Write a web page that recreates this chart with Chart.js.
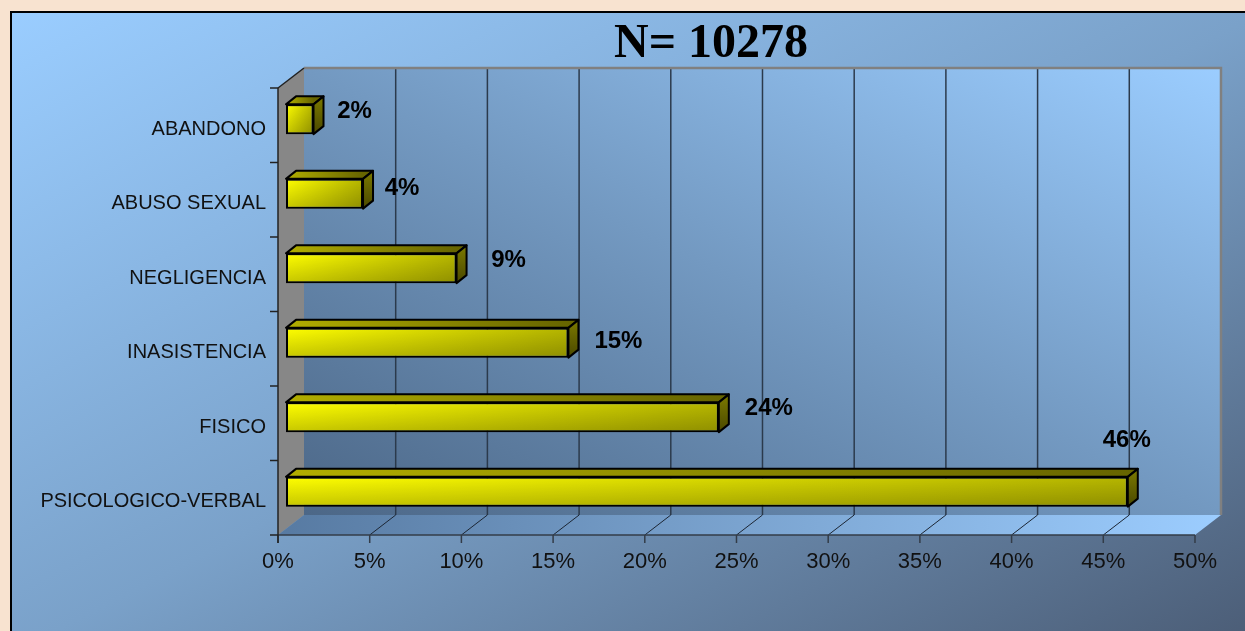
<!DOCTYPE html>
<html>
<head>
<meta charset="utf-8">
<title>N= 10278</title>
<script src="https://cdn.jsdelivr.net/npm/chart.js@4.4.1/dist/chart.umd.min.js"></script>
<style>
  html, body { margin: 0; padding: 0; width: 1245px; height: 631px; overflow: hidden; background: #f8e3d0; }
  #panel {
    position: absolute; left: 10px; top: 11px; width: 1250px; height: 640px;
    border: 2px solid #000;
    background: linear-gradient(to bottom right, #9acdff 0%, #7aa1c9 50%, #4a5b74 100%);
  }
  #chart { position: absolute; left: 0; top: 0; }
</style>
</head>
<body>
<div id="panel"></div>
<canvas id="chart" width="1245" height="631"></canvas>
<script>
const TITLE = 'N= 10278';
const categories = ['ABANDONO', 'ABUSO SEXUAL', 'NEGLIGENCIA', 'INASISTENCIA', 'FISICO', 'PSICOLOGICO-VERBAL'];
const percentValues = [1.5, 4.2, 9.3, 15.4, 23.6, 45.9];
const xTicks = [0, 5, 10, 15, 20, 25, 30, 35, 40, 45, 50];

// 3D offsets (px) relative to the plane the bars sit on
const depth = { front: [-8, 6], back: [18, -14], bar: [10, -8] };
// where each value label sits, relative to the end of its bar
const labelNudge = [[41, -8], [39, -5], [52, -8], [50, -1], [50, -9], [-1, -51]];

// canvas version of css "to top right": iso-lines run through top-left and bottom-right corners
function cornerGradient(ctx, x, y, w, h, stops) {
  const cx = x + w / 2, cy = y + h / 2;
  const len = Math.hypot(w, h);
  const ux = h / len, uy = -w / len;
  const half = (w * h) / len;
  const g = ctx.createLinearGradient(cx - ux * half, cy - uy * half, cx + ux * half, cy + uy * half);
  stops.forEach(([t, c]) => g.addColorStop(t, c));
  return g;
}

function poly(ctx, pts) {
  ctx.beginPath();
  ctx.moveTo(pts[0][0], pts[0][1]);
  pts.slice(1).forEach(p => ctx.lineTo(p[0], p[1]));
  ctx.closePath();
}

function line(ctx, x1, y1, x2, y2) {
  ctx.beginPath();
  ctx.moveTo(x1, y1);
  ctx.lineTo(x2, y2);
  ctx.stroke();
}

const scene3d = {
  id: 'scene3d',
  beforeDatasetsDraw(chart) {
    const { ctx, chartArea: a, scales: { x, y } } = chart;
    const [fx, fy] = depth.front, [bx, by] = depth.back;
    const left = x.getPixelForValue(xTicks[0]);
    const right = x.getPixelForValue(xTicks[xTicks.length - 1]);
    const wl = left + bx, wr = right + bx, wt = a.top + by, wb = a.bottom + by;
    const fl = left + fx, fr = right + fx, ft = a.top + fy, fb = a.bottom + fy;
    ctx.save();

    // back wall
    ctx.fillStyle = cornerGradient(ctx, wl, wt, wr - wl, wb - wt, [[0, '#4c6787'], [0.5, '#7399c1'], [1, '#9bcdff']]);
    ctx.fillRect(wl, wt, wr - wl, wb - wt);
    ctx.strokeStyle = '#2b3a4c';
    ctx.lineWidth = 1.5;
    xTicks.slice(1, -1).forEach(v => {
      const px = x.getPixelForValue(v) + bx;
      line(ctx, px, wt, px, wb);
    });
    ctx.strokeStyle = '#808080';
    ctx.lineWidth = 2.5;
    ctx.beginPath();
    ctx.moveTo(wl, wt); ctx.lineTo(wr, wt); ctx.lineTo(wr, wb);
    ctx.stroke();

    // left side wall
    poly(ctx, [[fl, ft], [wl, wt], [wl, wb], [fl, fb]]);
    ctx.fillStyle = '#878787';
    ctx.fill();

    // floor
    const fg = ctx.createLinearGradient(fl, 0, wr, 0);
    fg.addColorStop(0, '#577aa2');
    fg.addColorStop(0.5, '#7ba4d0');
    fg.addColorStop(1, '#9ccdff');
    poly(ctx, [[fl, fb], [fr, fb], [wr, wb], [wl, wb]]);
    ctx.fillStyle = fg;
    ctx.fill();
    ctx.strokeStyle = '#1c2634';
    ctx.lineWidth = 1;
    xTicks.slice(1, -1).forEach(v => {
      const px = x.getPixelForValue(v);
      line(ctx, px + fx, fb, px + bx, wb);
    });

    // front edges and tick marks
    ctx.strokeStyle = '#333c48';
    ctx.lineWidth = 1.5;
    line(ctx, fl, fb, fr, fb);
    xTicks.forEach(v => {
      const px = x.getPixelForValue(v) + fx;
      line(ctx, px, fb, px, fb + 8);
    });
    ctx.strokeStyle = '#222';
    line(ctx, fl, ft, fl, fb + 8);
    line(ctx, fl, ft, wl, wt);
    const half = (y.getPixelForValue(1) - y.getPixelForValue(0)) / 2;
    for (let i = 0; i <= categories.length; i++) {
      const py = (i < categories.length ? y.getPixelForValue(i) - half : y.getPixelForValue(i - 1) + half) + fy;
      line(ctx, fl - 8, py, fl, py);
    }

    // bar tops and sides
    const [dx, dy] = depth.bar;
    chart.getDatasetMeta(0).data.forEach(bar => {
      const { x: x1, y: cy, base: x0, height: h } = bar.getProps(['x', 'y', 'base', 'height'], true);
      const top = cy - h / 2, bot = cy + h / 2;
      ctx.lineWidth = 2;
      ctx.lineJoin = 'round';
      ctx.strokeStyle = '#000';
      const tg = ctx.createLinearGradient(x0, 0, x1, 0);
      tg.addColorStop(0, '#b2ae00');
      tg.addColorStop(1, '#676500');
      poly(ctx, [[x0, top], [x0 + dx, top + dy], [x1 + dx, top + dy], [x1, top]]);
      ctx.fillStyle = tg;
      ctx.fill();
      ctx.stroke();
      const sg = ctx.createLinearGradient(0, top + dy, 0, bot);
      sg.addColorStop(0, '#7c7a00');
      sg.addColorStop(1, '#4a4800');
      poly(ctx, [[x1, top], [x1 + dx, top + dy], [x1 + dx, bot + dy], [x1, bot]]);
      ctx.fillStyle = sg;
      ctx.fill();
      ctx.stroke();
    });
    ctx.restore();
  },
  afterDatasetsDraw(chart) {
    const { ctx } = chart;
    ctx.save();
    const meta = chart.getDatasetMeta(0);
    meta.data.forEach((bar, i) => {
      const { x: x1, y: cy, base: x0, height: h } = bar.getProps(['x', 'y', 'base', 'height'], true);
      // shading towards the bottom of the front face
      const vg = ctx.createLinearGradient(0, cy - h / 2, 0, cy + h / 2);
      vg.addColorStop(0, 'rgba(0,0,0,0)');
      vg.addColorStop(1, 'rgba(0,0,0,0.22)');
      ctx.fillStyle = vg;
      ctx.fillRect(x0, cy - h / 2, x1 - x0, h);

      ctx.fillStyle = '#000';
      ctx.font = 'bold 24px "Liberation Sans", Arial, sans-serif';
      ctx.textAlign = 'center';
      ctx.textBaseline = 'middle';
      const [nx, ny] = labelNudge[i];
      ctx.fillText(Math.round(percentValues[i]) + '%', x1 + nx, cy + ny);
    });

    ctx.font = 'bold 48px "Liberation Serif", "Times New Roman", serif';
    ctx.textAlign = 'center';
    ctx.textBaseline = 'alphabetic';
    ctx.fillStyle = '#000';
    ctx.fillText(TITLE, 711, 57);
    ctx.restore();
  }
};

new Chart(document.getElementById('chart'), {
  type: 'bar',
  data: {
    labels: categories,
    datasets: [{
      data: percentValues,
      backgroundColor: c => {
        const { chart } = c;
        if (!chart.chartArea || c.dataIndex === undefined) return '#ffff00';
        const xs = chart.scales.x;
        const x0 = xs.getPixelForValue(0), x1 = xs.getPixelForValue(percentValues[c.dataIndex]);
        const g = chart.ctx.createLinearGradient(x0, 0, x1, 0);
        g.addColorStop(0, '#ffff00');
        g.addColorStop(1, '#b6b600');
        return g;
      },
      borderColor: '#000',
      borderWidth: 2,
      borderSkipped: false,
      barPercentage: 0.4,
      categoryPercentage: 1,
    }],
  },
  options: {
    indexAxis: 'y',
    responsive: false,
    animation: false,
    devicePixelRatio: 1,
    layout: { padding: { left: 0, right: 34, top: 82, bottom: 0 } },
    plugins: { legend: { display: false }, tooltip: { enabled: false } },
    scales: {
      x: {
        min: 0,
        max: 50,
        afterBuildTicks: s => { s.ticks = xTicks.map(v => ({ value: v })); },
        afterFit: s => { s.height = 102; },
        grid: { display: false, drawTicks: false },
        border: { display: false },
        ticks: {
          callback: v => v + '%',
          labelOffset: depth.front[0],
          padding: 20,
          color: '#111',
          font: { family: '"Liberation Sans", Arial, sans-serif', size: 22 },
          maxRotation: 0,
        },
      },
      y: {
        afterFit: s => { s.width = 286; },
        grid: { display: false, drawTicks: false },
        border: { display: false },
        ticks: {
          labelOffset: 10,
          padding: 20,
          color: '#111',
          font: { family: '"Liberation Sans", Arial, sans-serif', size: 20 },
        },
      },
    },
  },
  plugins: [scene3d],
});
</script>
</body>
</html>
